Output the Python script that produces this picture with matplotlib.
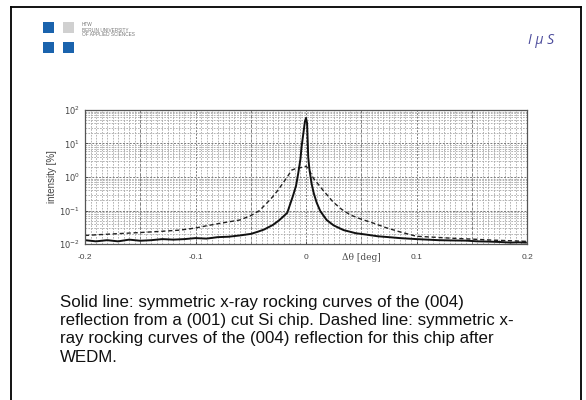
import matplotlib
matplotlib.use("Agg")
import matplotlib.pyplot as plt
from matplotlib.patches import Rectangle
from matplotlib.ticker import MultipleLocator, LogLocator, NullFormatter, FixedLocator
from matplotlib.transforms import blended_transform_factory

# ---- data ----
solid_x = [-0.200, -0.190, -0.180, -0.170, -0.160, -0.150, -0.140, -0.130, -0.120, -0.110,
           -0.100, -0.090, -0.080, -0.070, -0.060, -0.050, -0.044, -0.038, -0.030, -0.024,
           -0.017, -0.012, -0.009, -0.007, -0.005, -0.004, -0.002, -0.001, 0.000, 0.001,
           0.002, 0.003, 0.005, 0.007, 0.0097, 0.013, 0.0187, 0.025, 0.034, 0.045,
           0.055, 0.065, 0.075, 0.085, 0.100, 0.110, 0.120, 0.130, 0.145, 0.155,
           0.165, 0.175, 0.185, 0.192, 0.199]
solid_y = [0.013, 0.012, 0.013, 0.012, 0.0135, 0.0125, 0.013, 0.014, 0.0135, 0.014,
           0.015, 0.0145, 0.016, 0.0165, 0.018, 0.020, 0.023, 0.027, 0.037, 0.052,
           0.085, 0.26, 0.55, 1.3, 3.5, 8.0, 25.0, 45.0, 58.0, 40.0,
           4.0, 1.8, 0.65, 0.33, 0.17, 0.095, 0.052, 0.036, 0.026, 0.021,
           0.019, 0.017, 0.016, 0.015, 0.014, 0.0135, 0.013, 0.0128, 0.0126, 0.012,
           0.0118, 0.0115, 0.011, 0.0112, 0.011]

dash_x = [-0.200, -0.175, -0.150, -0.130, -0.114, -0.100, -0.090, -0.075, -0.060, -0.050,
          -0.042, -0.036, -0.030, -0.025, -0.021, -0.017, -0.013, -0.008, -0.003, 0.000,
          0.002, 0.0066, 0.0155, 0.0245, 0.032, 0.040, 0.050, 0.061, 0.072, 0.085,
          0.100, 0.115, 0.130, 0.150, 0.170, 0.185, 0.199]
dash_y = [0.018, 0.020, 0.022, 0.024, 0.026, 0.030, 0.035, 0.043, 0.052, 0.070,
          0.10, 0.16, 0.26, 0.42, 0.65, 1.0, 1.6, 1.85, 1.95, 2.1,
          1.8, 0.93, 0.40, 0.18, 0.11, 0.074, 0.055, 0.042, 0.031, 0.023,
          0.017, 0.016, 0.015, 0.014, 0.013, 0.0125, 0.012]

x_ticks = [-0.2, -0.1, 0.0, 0.1, 0.2]
x_tick_labels = ["-0.2", "-0.1", "0", "0.1", "0.2"]
y_ticks = [1e-2, 1e-1, 1e0, 1e1, 1e2]
y_tick_labels = [r"$10^{-2}$", r"$10^{-1}$", r"$10^{0}$", r"$10^{1}$", r"$10^{2}$"]

caption_lines = [
    "Solid line: symmetric x-ray rocking curves of the (004)",
    "reflection from a (001) cut Si chip. Dashed line: symmetric x-",
    "ray rocking curves of the (004) reflection for this chip after",
    "WEDM.",
]

plt.rcParams['font.family'] = ['Liberation Sans', 'DejaVu Sans']

fig = plt.figure(figsize=(5.86, 4.0), dpi=100)
fig.patch.set_facecolor("white")

W, H = 586.0, 400.0
def fx(px): return px / W
def fy(py): return 1 - py / H

# slide frame (no bottom edge visible)
fig.add_artist(plt.Line2D([fx(11), fx(11)], [fy(7), 0], color="black", lw=1.3, transform=fig.transFigure))
fig.add_artist(plt.Line2D([fx(581), fx(581)], [fy(7), 0], color="black", lw=1.3, transform=fig.transFigure))
fig.add_artist(plt.Line2D([fx(11), fx(581)], [fy(7), fy(7)], color="black", lw=1.3, transform=fig.transFigure))

# logo squares
blue = "#1a63ad"
for (x0, y0, c) in [(43, 22, blue), (63, 22, "#d0d0d0"), (43, 42, blue), (63, 42, blue)]:
    fig.add_artist(Rectangle((fx(x0), fy(y0 + 11)), 11 / W, 11 / H, color=c,
                             transform=fig.transFigure, lw=0))
for i, t in enumerate(["HTW", "BERLIN UNIVERSITY", "OF APPLIED SCIENCES"]):
    fig.text(fx(82), fy(25 + 5 * i), t, fontsize=3.4, color="#777777", va="center", ha="left")

fig.text(fx(541), fy(40), "I μ S", fontsize=10, color="#4b4b9b", style="italic",
         ha="center", va="center", family=["Open Sans", "DejaVu Sans"])

# chart axes
ax = fig.add_axes([fx(85), fy(244), 442 / W, 134 / H])
ax.set_yscale("log")
ax.set_xlim(-0.2, 0.2)
ax.set_ylim(1e-2, 1e2)

ax.xaxis.set_minor_locator(MultipleLocator(0.005))
ax.xaxis.set_major_locator(FixedLocator(x_ticks))
ax.set_xticklabels(x_tick_labels)
ax.yaxis.set_major_locator(FixedLocator(y_ticks))
ax.set_yticklabels(y_tick_labels)
ax.yaxis.set_minor_locator(LogLocator(base=10, subs=range(2, 10)))
ax.yaxis.set_minor_formatter(NullFormatter())

ax.grid(which="minor", axis="both", color="#a8a8a8", lw=0.6, ls=(0, (2, 1.5)))
ax.grid(which="major", axis="both", color="#7a7a7a", lw=0.7, ls=(0, (2, 1.5)))
for xv in [-0.15, -0.05, 0.05, 0.15]:
    ax.axvline(xv, color="#808080", lw=0.7, ls=(0, (3, 2)))

ax.plot(dash_x, dash_y, color="#222222", lw=1.0, ls=(0, (3, 2)))
ax.plot(solid_x, solid_y, color="#111111", lw=1.4)

ax.tick_params(axis="both", which="major", labelsize=6, colors="#444444", length=2, width=0.6, direction="in")
ax.tick_params(axis="both", which="minor", length=0)
ax.tick_params(axis="x", pad=7)
for s in ax.spines.values():
    s.set_color("#555555")
    s.set_linewidth(0.9)

ax.set_ylabel("intensity [%]", fontsize=7, color="#444444", labelpad=2)
ax.text(0.05, fy(257), "Δθ [deg]", transform=blended_transform_factory(ax.transData, fig.transFigure),
        fontsize=6.5, color="#444444", ha="center", va="center", family=["DejaVu Serif"])

# caption
for i, line in enumerate(caption_lines):
    fig.text(fx(60), fy(302 + 18.5 * i), line, fontsize=12.2, color="#111111", ha="left", va="center")

fig.savefig("out.png", dpi=100, facecolor="white")
